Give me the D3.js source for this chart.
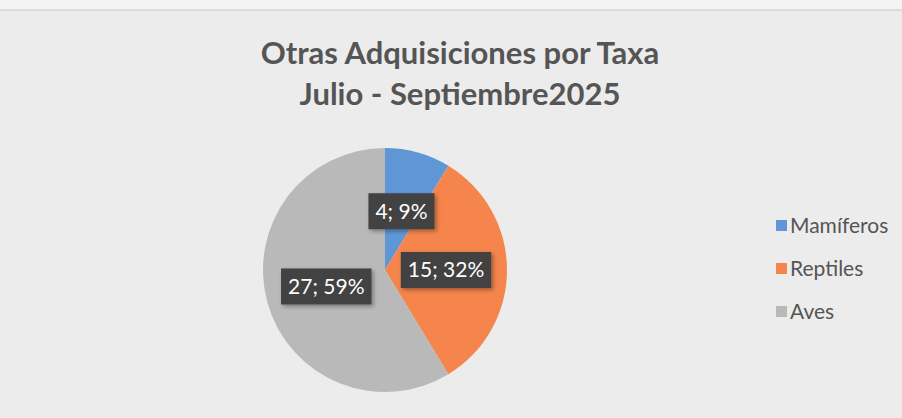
<!DOCTYPE html>
<html><head><meta charset="utf-8">
<script src="https://cdn.jsdelivr.net/npm/d3@7"></script>
<style>html,body{margin:0;padding:0;background:#f2f2f2;}svg{display:block;}</style>
</head><body>
<svg id="chart" width="902" height="418"></svg>
<script>
const titleLines = ["Otras Adquisiciones por Taxa", "Julio - Septiembre2025"];
const categories = ["Mamíferos", "Reptiles", "Aves"];
const values = [4, 15, 27];
const percentLabels = ["9%", "32%", "59%"];
const colors = ["#5f97d6", "#f5854d", "#b9b9b9"];

const svg = d3.select("#chart");
const W = 902, H = 418;
const font = "Lato, 'Open Sans', sans-serif";

svg.append("rect").attr("width", W).attr("height", H).attr("fill", "#f4f4f4");
svg.append("rect").attr("x", 0).attr("y", 10).attr("width", W).attr("height", H - 10).attr("fill", "#ececec");
svg.append("line").attr("x1", 0).attr("x2", W).attr("y1", 10).attr("y2", 10).attr("stroke", "#c8c8c8").attr("stroke-width", 1);

// Title
const title = svg.append("text").attr("text-anchor", "middle").attr("fill", "#555555")
  .attr("font-family", font).attr("font-weight", "bold").attr("font-size", 31);
titleLines.forEach((t, i) => title.append("tspan").attr("x", 460).attr("y", 64 + i * 41).text(t));

// Pie
const cx = 385, cy = 270, r = 122;
const pie = d3.pie().sort(null).value(d => d)(values);
const arc = d3.arc().innerRadius(0).outerRadius(r);
const labelArc = d3.arc().innerRadius(r * 0.5).outerRadius(r * 0.5);
const g = svg.append("g").attr("transform", `translate(${cx},${cy})`);
g.selectAll("path.slice").data(pie).join("path").attr("class", "slice")
  .attr("d", arc).attr("fill", (d, i) => colors[i]);

// Labels with shadow
const defs = svg.append("defs");
const f = defs.append("filter").attr("id", "sh").attr("x", "-30%").attr("y", "-30%").attr("width", "160%").attr("height", "160%");
f.append("feDropShadow").attr("dx", 2).attr("dy", 2).attr("stdDeviation", 2).attr("flood-color", "#000").attr("flood-opacity", 0.35);

pie.forEach((d, i) => {
  const [lx, ly] = labelArc.centroid(d);
  const lg = g.append("g").attr("transform", `translate(${lx},${ly})`);
  const rect = lg.append("rect").attr("fill", "#424242").attr("filter", "url(#sh)");
  const txt = lg.append("text").attr("text-anchor", "middle").attr("dy", "0.35em")
    .attr("fill", "#ffffff").attr("font-family", font).attr("font-size", 21)
    .text(`${values[i]}; ${percentLabels[i]}`);
  const w = txt.node().getComputedTextLength() + 14, h = 36;
  rect.attr("x", -w / 2).attr("y", -h / 2).attr("width", w).attr("height", h);
});

// Legend
const legend = svg.append("g").attr("transform", "translate(776,226)");
categories.forEach((c, i) => {
  const lg = legend.append("g").attr("transform", `translate(0,${i * 43})`);
  lg.append("rect").attr("x", 0).attr("y", -6).attr("width", 11).attr("height", 11).attr("fill", colors[i]);
  lg.append("text").attr("x", 14).attr("y", 0).attr("dy", "0.35em")
    .attr("fill", "#555555").attr("font-family", font).attr("font-size", 21).text(c);
});
</script>
</body></html>
